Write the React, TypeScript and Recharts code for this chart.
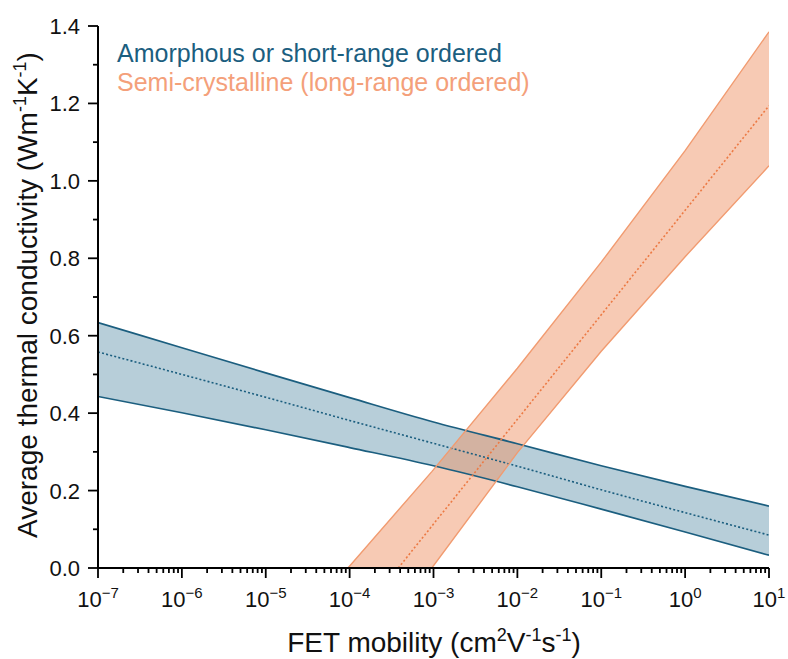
import React from "react";
import { ComposedChart, Area, Line, XAxis, YAxis } from "recharts";

// x values are log10 of FET mobility (cm2 V-1 s-1)
const blueX = [-7, -6, -5, -4, -3, -2, -1, 0, 1];
const blueUpper = [0.634, 0.569, 0.504, 0.44, 0.377, 0.321, 0.264, 0.211, 0.16];
const blueMid = [0.558, 0.5, 0.441, 0.381, 0.322, 0.263, 0.202, 0.143, 0.085];
const blueLower = [0.443, 0.401, 0.357, 0.311, 0.264, 0.21, 0.152, 0.093, 0.033];

const orangeX = [-4.02, -3.02, -2, -1, 0, 1];
const orangeUpper = [0, 0.249, 0.516, 0.79, 1.078, 1.385];
const orangeLower = [null, 0, 0.298, 0.56, 0.804, 1.039];

const orangeMidX = [-3.42, -2, -1, 0, 1];
const orangeMid = [0, 0.384, 0.654, 0.924, 1.194];

const xMajorTicks = [-7, -6, -5, -4, -3, -2, -1, 0, 1];
const yMajorTicks = [0, 0.2, 0.4, 0.6, 0.8, 1.0, 1.2, 1.4];

const legendLabels = ["Amorphous or short-range ordered", "Semi-crystalline (long-range ordered)"];

const FONT = '"Liberation Sans", Arial, sans-serif';
const BLUE = "#1b5e7f";
const BLUE_FILL = "#b7ced9";
const ORANGE = "#f19b70";
const ORANGE_DOT = "#ec7a44";
const ORANGE_FILL = "rgb(239,150,105)";

const blueData = blueX.map((x, i) => ({
  x,
  band: [blueLower[i], blueUpper[i]],
  upper: blueUpper[i],
  mid: blueMid[i],
  lower: blueLower[i],
}));

const orangeData = orangeX.map((x, i) => ({
  x,
  band: [orangeLower[i] ?? 0, orangeUpper[i]],
  upper: orangeUpper[i],
  lower: orangeLower[i],
}));

const orangeMidData = orangeMidX.map((x, i) => ({ x, mid: orangeMid[i] }));

// minor ticks: log decades for x, halfway points for y
const xAllTicks: number[] = [];
xMajorTicks.forEach((d, i) => {
  xAllTicks.push(d);
  if (i < xMajorTicks.length - 1) {
    for (let k = 2; k <= 9; k++) xAllTicks.push(d + Math.log10(k));
  }
});
const yAllTicks: number[] = [];
yMajorTicks.forEach((v, i) => {
  yAllTicks.push(v);
  if (i < yMajorTicks.length - 1) yAllTicks.push(Math.round((v + 0.1) * 10) / 10);
});

const isMajorX = (v: number) => Math.abs(v - Math.round(v)) < 1e-9;
const isMajorY = (v: number) => Math.abs(v * 5 - Math.round(v * 5)) < 1e-9;

const XTick = (props: any) => {
  const { x, y, payload } = props;
  const v = payload.value;
  const major = isMajorX(v);
  const exp = Math.round(v);
  return (
    <g>
      <line x1={x} x2={x} y1={y} y2={y + (major ? 10 : 5)} stroke="#000" strokeWidth={1.8} />
      {major && (
        <text x={x} y={y + 39} textAnchor="middle" fontSize={22} fontFamily={FONT} fill="#111">
          <tspan>10</tspan>
          <tspan dy={-9} fontSize={15}>
            {exp < 0 ? "\u2212" + Math.abs(exp) : String(exp)}
          </tspan>
        </text>
      )}
    </g>
  );
};

const YTick = (props: any) => {
  const { x, y, payload } = props;
  const v = payload.value;
  const major = isMajorY(v);
  return (
    <g>
      <line x1={x - (major ? 10 : 5)} x2={x} y1={y} y2={y} stroke="#000" strokeWidth={1.8} />
      {major && (
        <text x={x - 18} y={y + 8} textAnchor="end" fontSize={22} fontFamily={FONT} fill="#111">
          {v.toFixed(1)}
        </text>
      )}
    </g>
  );
};

const XTitle = () => (
  <text x={434} y={652} textAnchor="middle" fontSize={28} fontFamily={FONT} fill="#111">
    <tspan>FET mobility (cm</tspan>
    <tspan dy={-11} fontSize={18}>2</tspan>
    <tspan dy={11}>V</tspan>
    <tspan dy={-11} fontSize={18}>-1</tspan>
    <tspan dy={11}>s</tspan>
    <tspan dy={-11} fontSize={18}>-1</tspan>
    <tspan dy={11}>)</tspan>
  </text>
);

const YTitle = () => (
  <text
    x={37}
    y={295}
    transform="rotate(-90, 37, 295)"
    textAnchor="middle"
    fontSize={28}
    fontFamily={FONT}
    fill="#111"
  >
    <tspan>Average thermal conductivity (Wm</tspan>
    <tspan dy={-11} fontSize={18}>-1</tspan>
    <tspan dy={11}>K</tspan>
    <tspan dy={-11} fontSize={18}>-1</tspan>
    <tspan dy={11}>)</tspan>
  </text>
);

export default function App() {
  return (
    <div style={{ position: "absolute", left: 0, top: 0, width: 788, height: 659, background: "#fff" }}>
      <ComposedChart width={788} height={659} margin={{ top: 26, right: 19, left: 0, bottom: 0 }}>
        <XAxis
          type="number"
          dataKey="x"
          domain={[-7, 1]}
          ticks={xAllTicks}
          interval={0}
          tick={<XTick />}
          tickLine={false}
          tickSize={0}
          tickMargin={0}
          height={91}
          axisLine={{ stroke: "#000", strokeWidth: 2 }}
          allowDataOverflow
          label={<XTitle />}
        />
        <YAxis
          type="number"
          domain={[0, 1.4]}
          ticks={yAllTicks}
          interval={0}
          tick={<YTick />}
          tickLine={false}
          tickSize={0}
          tickMargin={0}
          width={98}
          axisLine={{ stroke: "#000", strokeWidth: 2 }}
          allowDataOverflow
          label={<YTitle />}
        />
        <Area
          data={blueData}
          dataKey="band"
          type="monotone"
          stroke="none"
          fill={BLUE_FILL}
          fillOpacity={1}
          isAnimationActive={false}
        />
        <Line data={blueData} dataKey="upper" type="monotone" stroke={BLUE} strokeWidth={1.7} dot={false} isAnimationActive={false} />
        <Line data={blueData} dataKey="lower" type="monotone" stroke={BLUE} strokeWidth={1.7} dot={false} isAnimationActive={false} />
        <Line
          data={blueData}
          dataKey="mid"
          type="monotone"
          stroke={BLUE}
          strokeWidth={1.6}
          strokeDasharray="2 2.2"
          dot={false}
          isAnimationActive={false}
        />
        <Area
          data={orangeData}
          dataKey="band"
          type="linear"
          stroke="none"
          fill={ORANGE_FILL}
          fillOpacity={0.5}
          isAnimationActive={false}
        />
        <Line data={orangeData} dataKey="upper" type="linear" stroke={ORANGE} strokeWidth={1.4} dot={false} isAnimationActive={false} />
        <Line
          data={orangeData}
          dataKey="lower"
          type="linear"
          stroke={ORANGE}
          strokeWidth={1.4}
          dot={false}
          connectNulls={false}
          isAnimationActive={false}
        />
        <Line
          data={orangeMidData}
          dataKey="mid"
          type="linear"
          stroke={ORANGE_DOT}
          strokeWidth={1.6}
          strokeDasharray="2 2.2"
          dot={false}
          isAnimationActive={false}
        />
      </ComposedChart>
      <div
        style={{
          position: "absolute",
          left: 117,
          top: 39,
          fontFamily: FONT,
          fontSize: 25,
          lineHeight: "29px",
          whiteSpace: "nowrap",
        }}
      >
        <div style={{ color: BLUE }}>{legendLabels[0]}</div>
        <div style={{ color: "#f4a07a" }}>{legendLabels[1]}</div>
      </div>
    </div>
  );
}
